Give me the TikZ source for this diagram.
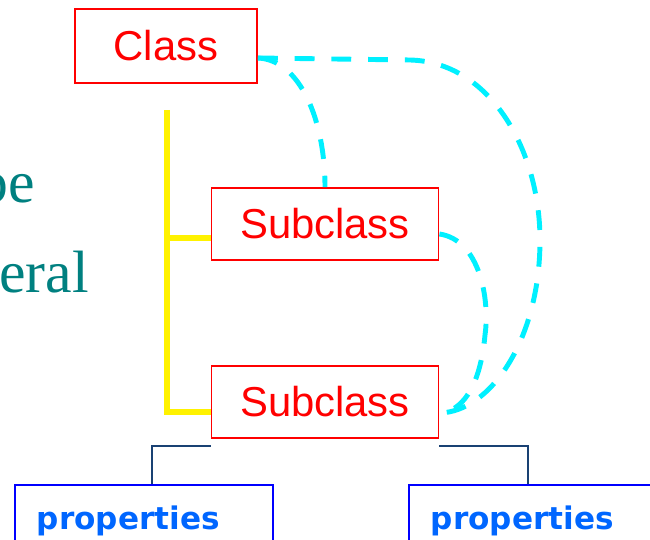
\documentclass[tikz,border=0pt]{standalone}
\usepackage{fontspec}
\setmainfont{Liberation Serif}
\newfontfamily\arialfont{Liberation Sans}
\newfontfamily\verdfont{DejaVu Sans}
\usetikzlibrary{calc}

\definecolor{linkcyan}{RGB}{0,240,255}
\definecolor{propblue}{RGB}{0,102,255}
\definecolor{branchnavy}{RGB}{25,65,115}
\definecolor{wordteal}{RGB}{0,128,128}

\begin{document}
\begin{tikzpicture}[x=0.02cm, y=-0.02cm,
        classbox/.style = {draw=red, line width=1.1pt, text=red, inner sep=0pt,
                           font=\arialfont\fontsize{23.8}{28}\selectfont},
        propbox/.style  = {draw=blue, line width=1.1pt, text=propblue, anchor=north west,
                           inner xsep=0.44cm, align=left, minimum height=1.44cm,
                           font=\verdfont\bfseries\fontsize{17.7}{21}\selectfont},
        tealword/.style = {anchor=base west, inner sep=0pt, text=wordteal,
                           font=\fontsize{34}{40}\selectfont},
        link/.style     = {linkcyan, line width=2.8pt, dash pattern=on 11.3pt off 9.6pt},
        spine/.style    = {yellow, line width=3.4pt},
        branch/.style   = {branchnavy, line width=1.1pt}]
                    \useasboundingbox (0,0) rectangle (650,540);

                    % teal words cut at the left edge
                    \node[tealword] (typeword) at (-22,203) {pe};
                    \node[tealword] (generalword) at (-1,293) {eral};

                    % boxes
                    \node[classbox, minimum width=3.64cm, minimum height=1.48cm] (Class) at (166,46) {Class};
                    \node[classbox, minimum width=4.54cm, minimum height=1.44cm] (SubA) at (325,224) {Subclass};
                    \node[classbox, minimum width=4.54cm, minimum height=1.44cm] (SubB) at (325,402) {Subclass};
                    \node[propbox, text width=4.28cm] (propL) at (14,484) {properties};
                    \node[propbox, text width=4.16cm] (propR) at (408,484) {properties};

                    % yellow spine
                    \coordinate (spinetop) at (167,110);
                    \coordinate (forkA) at ([yshift=-0.28cm]SubA.west);
                    \coordinate (forkB) at ([yshift=-0.2cm]SubB.west);
                    \draw[spine] (spinetop) |- (forkB);
                    \draw[spine] (spinetop |- forkA) -- (forkA);

                    % navy branches
                    \coordinate (leftfoot) at ([xshift=2.76cm]propL.north west);
                    \coordinate (rightfoot) at ([xshift=2.4cm]propR.north west);
                    \draw[branch] ([yshift=-0.14cm]SubB.south west) -| (leftfoot);
                    \draw[branch] ([yshift=-0.14cm]SubB.south east) -| (rightfoot);

                    % cyan links
                    \coordinate (classout) at ([yshift=-0.24cm]Class.east);
                    \coordinate (subAout) at ([yshift=-0.2cm]SubA.east);
                    \coordinate (subBin) at ([yshift=-0.22cm]SubB.east);
                    \draw[link] (classout) -- (410,60)
                        .. controls (490,62) and (540,150) .. (540,240)
                        .. controls (540,340) and (490,412) .. (subBin);
                    \draw[link] (classout) .. controls (300,60) and (325,120) .. (SubA.north);
                    \draw[link] (subAout) .. controls (480,240) and (490,300) .. (485,335)
                        .. controls (480,390) and (460,412) .. (subBin);
\end{tikzpicture}
\end{document}
